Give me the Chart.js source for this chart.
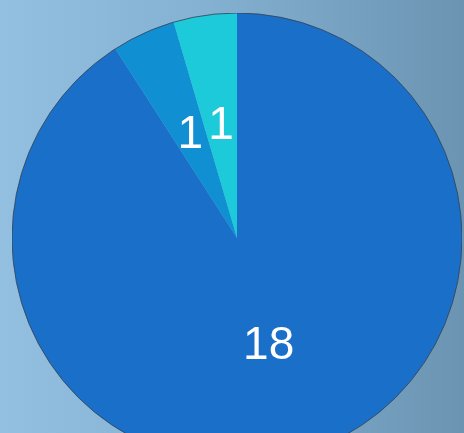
<!DOCTYPE html>
<html>
<head>
<meta charset="utf-8">
<script src="https://cdn.jsdelivr.net/npm/chart.js@4.4.0/dist/chart.umd.min.js"></script>
<style>
  html, body { margin: 0; padding: 0; width: 464px; height: 433px; overflow: hidden; }
  body { background: linear-gradient(to right, #93c0e1 0%, #84b0d1 45%, #6b94b2 100%); position: relative; }
  #wrap { position: absolute; left: 12px; top: 13px; width: 450px; height: 450px; }
</style>
</head>
<body>
<div id="wrap"><canvas id="pieChart" width="450" height="450"></canvas></div>
<script>
var labels = ['A', 'B', 'C'];
var values = [18, 0.9, 0.9];
var colors = ['#1a6fc9', '#118fd3', '#1ccad9'];

// draws the value in each slice and a thin outline round the pie
var sliceLabels = {
  id: 'sliceLabels',
  afterDatasetsDraw: function(chart) {
    var ctx = chart.ctx;
    var meta = chart.getDatasetMeta(0);
    var first = meta.data[0];
    ctx.save();
    ctx.beginPath();
    ctx.arc(first.x, first.y, first.outerRadius, 0, Math.PI * 2);
    ctx.strokeStyle = 'rgba(55,65,80,0.8)';
    ctx.lineWidth = 1;
    ctx.stroke();
    ctx.fillStyle = '#ffffff';
    ctx.font = '46px "Liberation Sans", Arial, sans-serif';
    ctx.textAlign = 'center';
    ctx.textBaseline = 'middle';
    meta.data.forEach(function(arc, i) {
      var p = arc.tooltipPosition();
      ctx.fillText(String(Math.round(values[i])), p.x, p.y);
    });
    ctx.restore();
  }
};

var ctxP = document.getElementById('pieChart').getContext('2d');
var myPieChart = new Chart(ctxP, {
  type: 'pie',
  data: {
    labels: labels,
    datasets: [{
      data: values,
      backgroundColor: colors,
      borderWidth: 0
    }]
  },
  options: {
    responsive: false,
    animation: false,
    layout: { padding: 0 },
    plugins: {
      legend: { display: false },
      tooltip: { enabled: false }
    }
  },
  plugins: [sliceLabels]
});
</script>
</body>
</html>
